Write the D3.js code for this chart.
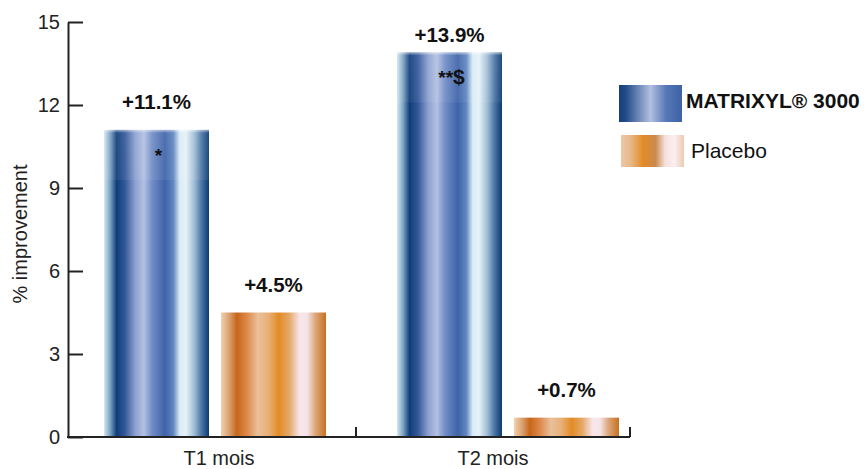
<!DOCTYPE html>
<html>
<head>
<meta charset="utf-8">
<script src="https://cdn.jsdelivr.net/npm/d3@7"></script>
<style>
  html, body { margin: 0; padding: 0; background: #fff; }
  svg { display: block; font-family: "Liberation Sans", Arial, sans-serif; }
</style>
</head>
<body>
<svg id="chart" width="867" height="469"></svg>
<script>
// ---- data ----
const categories = ["T1 mois", "T2 mois"];
const series = ["MATRIXYL® 3000", "Placebo"];
const matrixylValues = [11.1, 13.9];
const placeboValues = [4.5, 0.7];
const valueLabels = [["+11.1%", "+4.5%"], ["+13.9%", "+0.7%"]];
const significance = [["*", ""], ["**$", ""]];
const yTicks = [0, 3, 6, 9, 12, 15];
const yTitle = "% improvement";

// ---- gradient definitions (style) ----
const blueStops = [
  [0, "#d6e9f2"], [0.06, "#7aa0c0"], [0.12, "#0f3d78"], [0.20, "#34589a"],
  [0.30, "#8ea2d0"], [0.38, "#b3c0e2"], [0.46, "#6f8cc6"], [0.58, "#3f63a8"],
  [0.66, "#5f86c0"], [0.72, "#d8ebf5"], [0.78, "#e6f2f8"], [0.86, "#9fbdd6"],
  [0.93, "#4a74a4"], [1, "#0b3a72"]
];
const orangeStops = [
  [0, "#f2d2b0"], [0.08, "#d9a070"], [0.15, "#c8661a"], [0.25, "#de8a4d"],
  [0.35, "#e8c09a"], [0.45, "#e8b078"], [0.55, "#e38b25"], [0.65, "#e4a868"],
  [0.75, "#f8e6ec"], [0.82, "#f5e4e6"], [0.90, "#dba67a"], [1, "#c8701e"]
];
const blueLegendStops = [
  [0, "#14407c"], [0.1, "#1f4a88"], [0.5, "#b2bfe1"], [0.75, "#5677b6"], [1, "#3e62a6"]
];
const orangeLegendStops = [
  [0, "#ecc8a8"], [0.15, "#e8b88a"], [0.35, "#e38b25"], [0.55, "#c98a50"],
  [0.7, "#f5e2dc"], [0.85, "#fbeef2"], [1, "#eccab0"]
];

const svg = d3.select("#chart");
const defs = svg.append("defs");
function addGrad(id, stops) {
  const g = defs.append("linearGradient").attr("id", id)
    .attr("x1", "0%").attr("x2", "100%").attr("y1", "0%").attr("y2", "0%");
  stops.forEach(s => g.append("stop").attr("offset", s[0]).attr("stop-color", s[1]));
}
addGrad("gBlue", blueStops);
addGrad("gOrange", orangeStops);
addGrad("gBlueLeg", blueLegendStops);
addGrad("gOrangeLeg", orangeLegendStops);
const topFade = defs.append("linearGradient").attr("id", "topFade")
  .attr("x1", "0").attr("x2", "0").attr("y1", "0").attr("y2", "1");
topFade.append("stop").attr("offset", 0).attr("stop-color", "#fff").attr("stop-opacity", 0.55);
topFade.append("stop").attr("offset", 0.06).attr("stop-color", "#fff").attr("stop-opacity", 0.08);
topFade.append("stop").attr("offset", 1).attr("stop-color", "#fff").attr("stop-opacity", 0.06);

// ---- scales ----
const y = d3.scaleLinear().domain([0, 15]).range([437, 22]);
const x0 = d3.scaleBand().domain(categories).range([68.5, 654.5]).padding(0);
const x1 = d3.scaleBand().domain(series).range([35.5, 257.5]).paddingInner(0.1026).paddingOuter(0);
const xLab = d3.scaleBand().domain(categories).range([82, 630]).padding(0);
const fills = { "MATRIXYL® 3000": "url(#gBlue)", "Placebo": "url(#gOrange)" };

const rows = categories.map((c, i) => ({
  cat: c,
  bars: [
    { s: series[0], v: matrixylValues[i], lab: valueLabels[i][0], sig: significance[i][0] },
    { s: series[1], v: placeboValues[i], lab: valueLabels[i][1], sig: significance[i][1] }
  ]
}));

// ---- bars ----
const groups = svg.append("g").selectAll("g").data(rows).join("g")
  .attr("transform", d => `translate(${x0(d.cat)},0)`);

groups.selectAll("rect.bar").data(d => d.bars).join("rect")
  .attr("class", "bar")
  .attr("x", d => x1(d.s))
  .attr("y", d => y(d.v))
  .attr("width", x1.bandwidth())
  .attr("height", d => y(0) - y(d.v))
  .attr("fill", d => fills[d.s]);

// light top band on blue bars
groups.selectAll("rect.band").data(d => d.bars.filter(b => b.s === series[0])).join("rect")
  .attr("class", "band")
  .attr("x", d => x1(d.s))
  .attr("y", d => y(d.v))
  .attr("width", x1.bandwidth())
  .attr("height", 50)
  .attr("fill", "url(#topFade)");

// value labels
groups.selectAll("text.val").data(d => d.bars).join("text")
  .attr("class", "val")
  .attr("x", d => x1(d.s) + x1.bandwidth() / 2)
  .attr("y", d => Math.max(y(d.v) - 21, 42))
  .attr("text-anchor", "middle")
  .attr("font-size", 20.5)
  .attr("font-weight", "bold")
  .attr("fill", "#111")
  .text(d => d.lab);

// significance marks
const sig = groups.selectAll("text.sig").data(d => d.bars.filter(b => b.sig)).join("text")
  .attr("class", "sig")
  .attr("x", d => x1(d.s) + x1.bandwidth() / 2 + 2)
  .attr("y", d => y(d.v) + 32)
  .attr("text-anchor", "middle")
  .attr("fill", "#111")
  .attr("font-weight", "bold");
sig.each(function(d) {
  const t = d3.select(this);
  const stars = d.sig.replace(/[^*]/g, "");
  const rest = d.sig.replace(/\*/g, "");
  t.append("tspan").attr("font-size", 19).text(stars);
  if (rest) t.append("tspan").attr("font-size", 21).text(rest);
});

// ---- axes ----
const yAxis = svg.append("g").attr("transform", "translate(68,0)")
  .call(d3.axisLeft(y).tickValues(yTicks).tickSize(-15).tickSizeOuter(0).tickPadding(8));
yAxis.select(".domain").attr("stroke", "#222").attr("stroke-width", 2);
yAxis.selectAll(".tick line").attr("stroke", "#222").attr("stroke-width", 2);
yAxis.selectAll(".tick text").attr("font-size", 20).attr("fill", "#222")
  .attr("font-family", "'Liberation Sans', Arial, sans-serif");

const xAxis = svg.append("g").attr("transform", `translate(0,${y(0)})`);
xAxis.append("line").attr("x1", 67).attr("x2", xLab.range()[1]).attr("y1", 0).attr("y2", 0)
  .attr("stroke", "#222").attr("stroke-width", 2);
const bounds = categories.map(c => xLab(c) + xLab.step());
xAxis.selectAll("line.tk").data(bounds).join("line").attr("class", "tk")
  .attr("x1", d => d).attr("x2", d => d).attr("y1", 0).attr("y2", -10)
  .attr("stroke", "#222").attr("stroke-width", 2);
xAxis.selectAll("text").data(categories).join("text")
  .attr("x", d => xLab(d) + xLab.bandwidth() / 2)
  .attr("y", 28)
  .attr("text-anchor", "middle")
  .attr("font-size", 20)
  .attr("fill", "#222")
  .text(d => d);

svg.append("text")
  .attr("transform", "translate(26.5,234) rotate(-90)")
  .attr("text-anchor", "middle")
  .attr("font-size", 20)
  .attr("fill", "#222")
  .text(yTitle);

// ---- legend ----
const legendItems = [
  { name: series[0], fill: "url(#gBlueLeg)", x: 619, y: 85, h: 37, tx: 686, ty: 108, bold: true },
  { name: series[1], fill: "url(#gOrangeLeg)", x: 621, y: 135, h: 32, tx: 691, ty: 158, bold: false }
];
const leg = svg.append("g").selectAll("g").data(legendItems).join("g");
leg.append("rect").attr("x", d => d.x).attr("y", d => d.y).attr("width", 63).attr("height", d => d.h)
  .attr("fill", d => d.fill);
leg.append("text").attr("x", d => d.tx).attr("y", d => d.ty)
  .attr("font-size", 21).attr("font-weight", d => d.bold ? "bold" : "normal")
  .attr("fill", "#111").text(d => d.name);
</script>
</body>
</html>
